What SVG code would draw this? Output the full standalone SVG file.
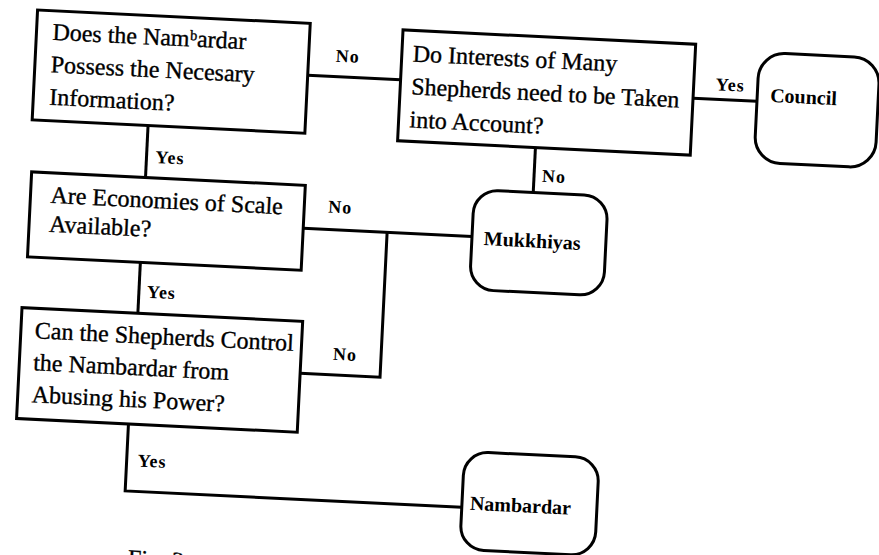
<svg xmlns="http://www.w3.org/2000/svg" width="879" height="555" viewBox="0 0 879 555">
<style>
.box{fill:#fff;stroke:#000;stroke-width:3}
.txt{font-family:"Liberation Serif","Times New Roman",serif;font-size:24px;fill:#000;stroke:#000;stroke-width:0.35}
.term{font-family:"Liberation Serif","Times New Roman",serif;font-size:20px;font-weight:bold;fill:#000}
.lbl{font-family:"Liberation Serif","Times New Roman",serif;font-size:18px;font-weight:bold;fill:#000;letter-spacing:1px}
.ln{fill:none;stroke:#000;stroke-width:3;stroke-linejoin:miter}
</style>
<rect width="879" height="555" fill="#fff"/>
<g transform="rotate(2.8 440 277)">
<g id="connectors">
<path class="ln" d="M298 82 H391"/>
<path class="ln" d="M684 86 H748"/>
<path class="ln" d="M529 143 V188"/>
<path class="ln" d="M141 140 V192"/>
<path class="ln" d="M301 235 H470"/>
<path class="ln" d="M305 380 H385 V235"/>
<path class="ln" d="M140 277 V328"/>
<path class="ln" d="M136 439 V506 H473"/>
<text class="lbl" x="325" y="67">No</text>
<text class="lbl" x="706" y="77">Yes</text>
<text class="lbl" x="537" y="177">No</text>
<text class="lbl" x="150" y="177">Yes</text>
<text class="lbl" x="325" y="218">No</text>
<text class="lbl" x="148" y="312">Yes</text>
<text class="lbl" x="337" y="365">No</text>
<text class="lbl" x="147" y="481">Yes</text>
</g>
<g id="q1">
<rect class="box" x="25" y="30" width="273" height="110"/>
<text class="txt" x="41" y="59">Does the Namᵇardar</text>
<text class="txt" x="41" y="91.5">Possess the Necesary</text>
<text class="txt" x="41" y="124">Information?</text>
</g>
<g id="q2">
<rect class="box" x="391" y="32" width="293" height="111"/>
<text class="txt" x="402" y="63">Do Interests of Many</text>
<text class="txt" x="402" y="96">Shepherds need to be Taken</text>
<text class="txt" x="402" y="129">into Account?</text>
</g>
<g id="council">
<rect class="box" x="748" y="37" width="121" height="110" rx="26"/>
<text class="term" x="761" y="86">Council</text>
</g>
<g id="q3">
<rect class="box" x="27" y="192" width="274" height="85"/>
<text class="txt" x="47" y="222">Are Economies of Scale</text>
<text class="txt" x="47" y="251">Available?</text>
</g>
<g id="mukkhiyas">
<rect class="box" x="470" y="188" width="134" height="100" rx="24"/>
<text class="term" x="482" y="243">Mukkhiyas</text>
</g>
<g id="q4">
<rect class="box" x="24" y="328" width="281" height="111"/>
<text class="txt" x="38" y="358">Can the Shepherds Control</text>
<text class="txt" x="38" y="390">the Nambardar from</text>
<text class="txt" x="38" y="422">Abusing his Power?</text>
</g>
<g id="nambardar">
<rect class="box" x="473" y="450" width="135" height="98" rx="24"/>
<text class="term" x="481" y="508">Nambardar</text>
</g>
<text class="txt" x="142" y="581">Fig. 2</text>
</g>
</svg>
